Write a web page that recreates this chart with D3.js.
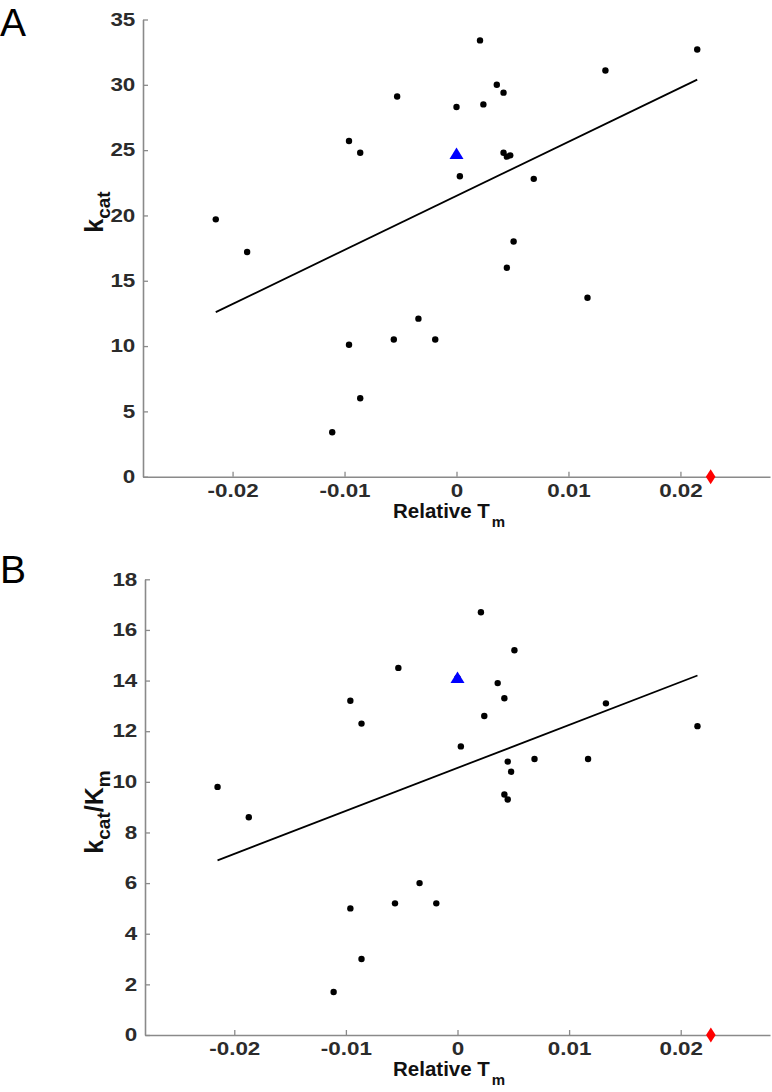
<!DOCTYPE html>
<html>
<head>
<meta charset="utf-8">
<script src="https://cdn.jsdelivr.net/npm/d3@7"></script>
<style>
  html, body { margin: 0; padding: 0; background: #fff; }
  svg { display: block; font-family: "Liberation Sans", Arial, Helvetica, sans-serif; }
</style>
</head>
<body>
<svg id="chart" width="772" height="1092"></svg>
<script>
// ---- Data ----
const relTm = [-0.0215, -0.0187, -0.0111, -0.0096, -0.0096, -0.0086, -0.0086, -0.0056, -0.0053,
               -0.0034, -0.0019, 0.0000, 0.0003, 0.0021, 0.0024, 0.0036, 0.0042, 0.0042,
                0.0045, 0.0048, 0.0045, 0.0051, 0.0069, 0.0117, 0.0133, 0.0215];
const kcat = [19.7, 17.2, 3.4, 25.7, 10.1, 24.8, 6.0, 10.5, 29.1,
              12.1, 10.5, 28.3, 23.0, 33.4, 28.5, 30.0, 29.4, 24.8,
              24.5, 24.6, 16.0, 18.0, 22.8, 13.7, 31.1, 32.7];
const kcatKm = [9.8, 8.6, 1.7, 13.2, 5.0, 12.3, 3.0, 5.2, 14.5,
                6.0, 5.2, 14.1, 11.4, 16.7, 12.6, 13.9, 13.3, 9.5,
                10.8, 10.4, 9.3, 15.2, 10.9, 10.9, 13.1, 12.2];
// reference (wild type) point, shown as blue triangle
const refX = [0.0];
const refKcat = [24.7];
const refKcatKm = [14.1];
// red diamond marker on the x axis
const markX = [0.0227];
const markY = [0];
// fitted regression line endpoints
const fitX = [-0.0215, 0.0215];
const fitKcat = [12.6, 30.4];
const fitKcatKm = [6.9, 14.2];
// axes
const xTicks = [-0.02, -0.01, 0, 0.01, 0.02];
const xTickLabels = ["-0.02", "-0.01", "0", "0.01", "0.02"];
const yTicksA = [0, 5, 10, 15, 20, 25, 30, 35];
const yTicksB = [0, 2, 4, 6, 8, 10, 12, 14, 16, 18];

const svg = d3.select("#chart");
const axisColor = "#8a8a8a";
const tickColor = "#2b2b2b";

function panel(opts) {
  const x = d3.scaleLinear().domain([-0.028, 0.028]).range([opts.left, 770]);
  const y = d3.scaleLinear().domain(opts.yDomain).range([opts.bottom, opts.top]);
  const g = svg.append("g");

  // y axis
  const ya = g.append("g").attr("transform", `translate(${opts.left},0)`)
    .call(d3.axisLeft(y).tickValues(opts.yTicks).tickFormat(d3.format("d"))
      .tickSizeInner(-5).tickSizeOuter(0).tickPadding(6.5));
  // x axis
  const xa = g.append("g").attr("transform", `translate(0,${opts.bottom})`)
    .call(d3.axisBottom(x).tickValues(xTicks).tickFormat((d, i) => xTickLabels[i])
      .tickSizeInner(-5).tickSizeOuter(0).tickPadding(7));
  [ya, xa].forEach(a => {
    a.select(".domain").attr("stroke", axisColor).attr("stroke-width", 1.6);
    a.selectAll(".tick line").attr("stroke", axisColor).attr("stroke-width", 1.3);
    a.selectAll(".tick text")
      .attr("fill", tickColor).attr("font-size", 19).attr("font-weight", "bold")
      .attr("font-family", '"Liberation Sans", Arial, sans-serif')
      .attr("transform", "scale(1.18,1)");
  });
  ya.selectAll(".tick text").attr("dy", "0.3em");

  // fit line
  g.append("path")
    .datum(fitX.map((d, i) => [d, opts.fit[i]]))
    .attr("d", d3.line().x(d => x(d[0])).y(d => y(d[1])))
    .attr("fill", "none").attr("stroke", "#000").attr("stroke-width", 1.8);

  // data points
  g.append("g").selectAll("circle")
    .data(relTm.map((d, i) => [d, opts.values[i]]))
    .join("circle")
    .attr("cx", d => x(d[0])).attr("cy", d => y(d[1])).attr("r", 3.2)
    .attr("fill", "#000");

  // reference triangle
  g.append("g").selectAll("path")
    .data(refX.map((d, i) => [d, opts.ref[i]]))
    .join("path")
    .attr("transform", d => `translate(${x(d[0])},${y(d[1])})`)
    .attr("d", "M0,-6.5 L7,5 L-7,5 Z")
    .attr("fill", "#0000ff");

  // red diamond
  g.append("g").selectAll("path")
    .data(markX.map((d, i) => [d, markY[i]]))
    .join("path")
    .attr("transform", d => `translate(${x(d[0])},${y(d[1])})`)
    .attr("d", "M0,-7.5 L4.8,0 L0,7.5 L-4.8,0 Z")
    .attr("fill", "#ff0000");

  // x label
  const xl = g.append("text")
    .attr("x", opts.xLabelX).attr("y", opts.bottom + 41)
    .attr("font-size", 20.5).attr("font-weight", "bold").attr("fill", "#111");
  xl.append("tspan").text("Relative T");
  xl.append("tspan").attr("font-size", 15).attr("dy", 9).attr("dx", 2).text("m");

  // y label
  const yl = g.append("text")
    .attr("transform", `translate(${opts.yLabelX},${opts.yLabelY}) rotate(-90)`)
    .attr("text-anchor", "middle")
    .attr("font-size", 25).attr("font-weight", "bold").attr("fill", "#111");
  opts.yLabel.forEach(p => {
    const t = yl.append("tspan").text(p.t);
    if (p.sub) t.attr("font-size", 19).attr("dy", 7);
    else if (p.after) t.attr("dy", -7);
  });

  // panel letter
  svg.append("text").attr("x", 0).attr("y", opts.letterY)
    .attr("font-size", 39).attr("fill", "#000")
    .attr("font-family", '"Liberation Sans", Arial, sans-serif')
    .text(opts.letter);
}

panel({
  left: 143, top: 19.5, bottom: 476.7, yDomain: [0, 35], yTicks: yTicksA,
  values: kcat, ref: refKcat, fit: fitKcat,
  xLabelX: 393, yLabelX: 103, yLabelY: 212,
  yLabel: [{t: "k"}, {t: "cat", sub: true}],
  letter: "A", letterY: 36
});
panel({
  left: 145, top: 579.3, bottom: 1035, yDomain: [0, 18], yTicks: yTicksB,
  values: kcatKm, ref: refKcatKm, fit: fitKcatKm,
  xLabelX: 393, yLabelX: 103, yLabelY: 812,
  yLabel: [{t: "k"}, {t: "cat", sub: true}, {t: "/K", after: true}, {t: "m", sub: true}],
  letter: "B", letterY: 583
});
</script>
</body>
</html>
